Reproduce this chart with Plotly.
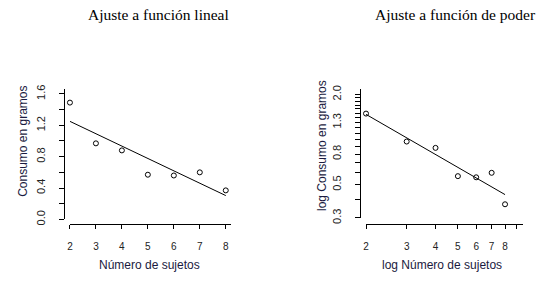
import numpy as np
import plotly.graph_objects as go

# ---- data ----
sujetos = [2, 3, 4, 5, 6, 7, 8]
consumo = [1.49, 0.97, 0.88, 0.57, 0.56, 0.60, 0.37]

left_ytick_major = [0.0, 0.4, 0.8, 1.2, 1.6]
left_xticks = [2, 3, 4, 5, 6, 7, 8]
right_yticks = [round(0.3 + 0.1 * i, 1) for i in range(18)]  # 0.3 .. 2.0
right_ylabels = {0.3: "0.3", 0.5: "0.5", 0.8: "0.8", 1.3: "1.3", 2.0: "2.0"}
right_xticks = [2, 3, 4, 5, 6, 7, 8, 9]
right_xlabels = {2: "2", 3: "3", 4: "4", 5: "5", 6: "6", 7: "7", 8: "8"}

title_left = "Ajuste a función lineal"
title_right = "Ajuste a función de poder"
xlab_left = "Número de sujetos"
ylab_left = "Consumo en gramos"
xlab_right = "log Número de sujetos"
ylab_right = "log Consumo en gramos"

# ---- fits ----
x = np.array(sujetos, float)
y = np.array(consumo, float)
b1, b0 = np.polyfit(x, y, 1)
xl = np.array([x.min(), x.max()])
yl = b0 + b1 * xl
p1, p0 = np.polyfit(np.log(x), np.log(y), 1)
yp = np.exp(p0) * xl ** p1

W, H = 543, 282
def px(v): return v / W
def py(v): return 1 - v / H

fig = go.Figure()
mk = dict(symbol="circle-open", size=5, color="black", line=dict(width=1, color="black"))
fig.add_trace(go.Scatter(x=sujetos, y=consumo, mode="markers", marker=mk,
                         cliponaxis=False, xaxis="x", yaxis="y"))
fig.add_trace(go.Scatter(x=xl, y=yl, mode="lines", line=dict(color="black", width=1),
                         cliponaxis=False, xaxis="x", yaxis="y"))
fig.add_trace(go.Scatter(x=sujetos, y=consumo, mode="markers", marker=mk,
                         cliponaxis=False, xaxis="x2", yaxis="y2"))
fig.add_trace(go.Scatter(x=xl, y=yp, mode="lines", line=dict(color="black", width=1),
                         cliponaxis=False, xaxis="x2", yaxis="y2"))

tickfont_x = dict(family="Liberation Sans, Arial", size=10, color="#222")
tickfont_y = dict(family="Liberation Sans, Arial", size=11, color="#222")
common = dict(showline=True, linecolor="black", linewidth=1, ticks="outside",
              tickcolor="black", tickwidth=1, showgrid=False, zeroline=False,
              anchor="free")

eps = 1e-4
fig.update_layout(
    width=W, height=H, margin=dict(l=0, r=0, t=0, b=0),
    paper_bgcolor="white", plot_bgcolor="white", showlegend=False,
    xaxis=dict(**common, domain=[px(67.3), px(229.5)], range=[2 - eps, 8.21],
               position=py(228.3), tickvals=left_xticks, ticklen=4,
               tickfont=tickfont_x, ticklabelstandoff=9),
    yaxis=dict(**common, domain=[py(223.3), py(88.4)], range=[0, 1.66],
               position=px(61.7), tickvals=left_ytick_major,
               ticktext=[f"{v:.1f}" for v in left_ytick_major],
               ticklen=5, tickangle=-90, tickfont=tickfont_y, ticklabelstandoff=10,
               minor=dict(dtick=0.2, tick0=0, ticks="outside", ticklen=5,
                          tickcolor="black", tickwidth=1)),
    xaxis2=dict(**common, type="log", domain=[px(365), px(523.3)],
                range=[np.log10(2) - eps, np.log10(9) + 0.0284], position=py(228.3),
                tickvals=right_xticks,
                ticktext=[right_xlabels.get(v, "") for v in right_xticks],
                ticklen=4, tickfont=tickfont_x, ticklabelstandoff=9),
    yaxis2=dict(**common, type="log", domain=[py(221.8), py(88.0)],
                range=[np.log10(0.3), np.log10(2.0) + 0.037], position=px(359),
                tickvals=right_yticks,
                ticktext=[right_ylabels.get(v, "") for v in right_yticks],
                ticklen=5, tickangle=-90, tickfont=tickfont_y, ticklabelstandoff=10),
)

tfont = dict(family="Liberation Serif, Times New Roman", size=15.5, color="black")
lfont = dict(family="Liberation Sans, Arial", size=12, color="#1a1a40")
ann = [
    dict(text=title_left, x=px(156.7), y=py(11), font=tfont),
    dict(text=title_right, x=px(455), y=py(11), font=tfont),
    dict(text=xlab_left, x=px(147), y=py(271), font=lfont),
    dict(text=xlab_right, x=px(441), y=py(271), font=lfont),
    dict(text=ylab_left, x=px(20), y=py(142), font=lfont, textangle=-90),
    dict(text=ylab_right, x=px(321), y=py(147), font=lfont, textangle=-90),
]
for a in ann:
    fig.add_annotation(xref="paper", yref="paper", showarrow=False,
                       xanchor="center", yanchor="middle", **a)

fig.write_html("out.html", config={"displayModeBar": False},
               post_script="document.body.style.margin='0';document.body.style.padding='0';")
